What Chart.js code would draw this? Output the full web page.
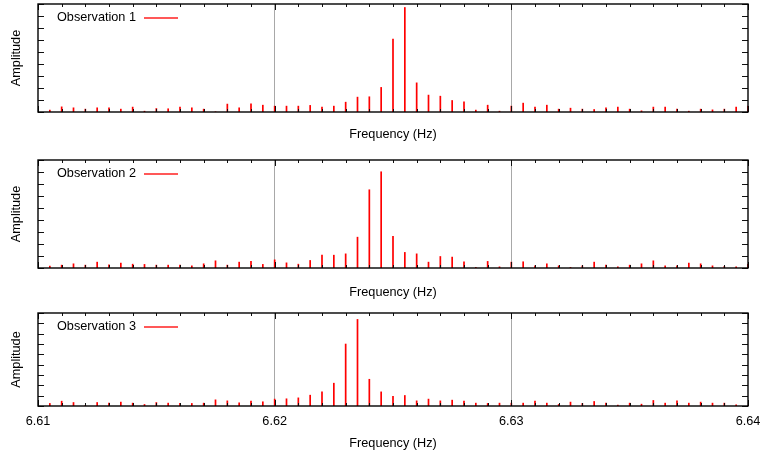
<!DOCTYPE html>
<html>
<head>
<meta charset="utf-8">
<script src="https://cdn.jsdelivr.net/npm/chart.js@4"></script>
<style>
  body { margin: 0; background: #fff; }
  #wrap { position: relative; width: 764px; height: 457px; }
  canvas { position: absolute; left: 0; }
</style>
</head>
<body>
<div id="wrap">
  <canvas id="c1" width="764" height="150" style="top:0px"></canvas>
  <canvas id="c2" width="764" height="150" style="top:150px"></canvas>
  <canvas id="c3" width="764" height="157" style="top:300px"></canvas>
</div>
<script>
// spectral lines, 0.0005 Hz apart
const frequencies = [
  6.6105, 6.611, 6.6115, 6.612, 6.6125, 6.613, 6.6135, 6.614, 6.6145, 6.615,
  6.6155, 6.616, 6.6165, 6.617, 6.6175, 6.618, 6.6185, 6.619, 6.6195, 6.62,
  6.6205, 6.621, 6.6215, 6.622, 6.6225, 6.623, 6.6235, 6.624, 6.6245, 6.625,
  6.6255, 6.626, 6.6265, 6.627, 6.6275, 6.628, 6.6285, 6.629, 6.6295, 6.63,
  6.6305, 6.631, 6.6315, 6.632, 6.6325, 6.633, 6.6335, 6.634, 6.6345, 6.635,
  6.6355, 6.636, 6.6365, 6.637, 6.6375, 6.638, 6.6385, 6.639, 6.6395, 6.64
];

const obs1 = [
  0.17, 0.44, 0.36, 0.25, 0.36, 0.36, 0.25, 0.42, 0.08, 0.3,
  0.28, 0.42, 0.36, 0.25, 0.03, 0.67, 0.36, 0.69, 0.58, 0.5,
  0.5, 0.5, 0.56, 0.42, 0.5, 0.83, 1.25, 1.28, 2.06, 6.08,
  8.72, 2.44, 1.42, 1.33, 0.97, 0.86, 0.17, 0.58, 0.08, 0.5,
  0.75, 0.42, 0.58, 0.25, 0.33, 0.25, 0.22, 0.36, 0.42, 0.25,
  0.11, 0.42, 0.42, 0.25, 0.08, 0.25, 0.19, 0.25, 0.42, 0.5
];

const obs2 = [
  0.17, 0.25, 0.36, 0.25, 0.5, 0.28, 0.42, 0.33, 0.31, 0.25,
  0.25, 0.25, 0.19, 0.36, 0.61, 0.25, 0.5, 0.56, 0.31, 0.69,
  0.44, 0.33, 0.64, 1.08, 1.08, 1.19, 2.58, 6.53, 8.03, 2.64,
  1.31, 1.19, 0.5, 0.97, 0.92, 0.53, 0.06, 0.56, 0.11, 0.5,
  0.53, 0.19, 0.36, 0.19, 0.06, 0.19, 0.5, 0.25, 0.11, 0.25,
  0.36, 0.61, 0.19, 0.19, 0.42, 0.36, 0.19, 0.14, 0.11, 0.31
];

const obs3 = [
  0.26, 0.48, 0.35, 0.05, 0.35, 0.29, 0.39, 0.29, 0.16, 0.35,
  0.29, 0.26, 0.26, 0.29, 0.61, 0.51, 0.32, 0.48, 0.42, 0.68,
  0.71, 0.8, 1.06, 1.38, 2.22, 6.01, 8.39, 2.6, 1.38, 0.96,
  1.03, 0.51, 0.68, 0.51, 0.58, 0.48, 0.29, 0.26, 0.29, 0.29,
  0.29, 0.48, 0.29, 0.16, 0.39, 0.26, 0.45, 0.29, 0.1, 0.29,
  0.19, 0.55, 0.29, 0.51, 0.29, 0.39, 0.29, 0.29, 0.13, 0.05
];

const xTickLabels = ["6.61", "6.62", "6.63", "6.64"];
const xMin = 6.61, xMax = 6.64, xMajor = 0.01, xMinor = 0.001;
const yMax = 9;

Chart.defaults.font.family = "'Liberation Sans', Arial, sans-serif";
Chart.defaults.font.size = 12.7;
Chart.defaults.color = "#000";

// gnuplot-like box with inward ticks on all four sides, plus the key
const gnuplotFrame = {
  id: "gnuplotFrame",
  afterDatasetsDraw(chart) {
    const ctx = chart.ctx;
    const a = chart.chartArea;
    const x = chart.scales.x, y = chart.scales.y;
    ctx.save();
    ctx.strokeStyle = "#111";
    ctx.lineWidth = 1;
    ctx.beginPath();
    const nMinor = Math.round((xMax - xMin) / xMinor);
    for (let i = 0; i <= nMinor; i++) {
      const px = Math.round(x.getPixelForValue(xMin + i * xMinor)) + 0.5;
      const len = i % 10 === 0 ? 6 : 3;
      ctx.moveTo(px, a.top); ctx.lineTo(px, a.top + len);
      ctx.moveTo(px, a.bottom); ctx.lineTo(px, a.bottom - len);
    }
    for (let v = 0; v <= yMax; v++) {
      const py = Math.round(y.getPixelForValue(v)) + 0.5;
      ctx.moveTo(a.left, py); ctx.lineTo(a.left + 6, py);
      ctx.moveTo(a.right, py); ctx.lineTo(a.right - 6, py);
    }
    ctx.stroke();
    ctx.lineWidth = 1.4;
    ctx.strokeStyle = "#000";
    ctx.strokeRect(a.left, a.top, a.right - a.left, a.bottom - a.top);
    ctx.restore();
  },
  afterDraw(chart) {
    const ctx = chart.ctx;
    const a = chart.chartArea;
    const ds = chart.data.datasets[0];
    const ly = a.top + 13.5;
    ctx.save();
    ctx.font = "12.7px 'Liberation Sans', Arial, sans-serif";
    ctx.fillStyle = "#000";
    ctx.textBaseline = "middle";
    ctx.fillText(ds.label, 57, ly);
    ctx.strokeStyle = "#ff2020";
    ctx.lineWidth = 1.3;
    ctx.beginPath();
    ctx.moveTo(144, ly + 0.5);
    ctx.lineTo(178, ly + 0.5);
    ctx.stroke();
    ctx.restore();
  }
};

function makeChart(id, label, values, padTop, xHeight, titleGap, showTicks) {
  const ctx = document.getElementById(id).getContext("2d");
  return new Chart(ctx, {
    type: "bar",
    data: {
      datasets: [
        {
          label: label,
          data: frequencies.map((f, i) => ({ x: f, y: values[i] })),
          backgroundColor: "#ff0000",
          borderWidth: 0,
          barThickness: 1.3,
          inflateAmount: 0.2,
        },
      ],
    },
    options: {
      responsive: false,
      animation: false,
      devicePixelRatio: 1,
      layout: { padding: { top: padTop, right: 16, bottom: 0, left: 0 } },
      plugins: { legend: { display: false }, tooltip: { enabled: false } },
      scales: {
        x: {
          type: "linear",
          min: xMin,
          max: xMax,
          offset: false,
          grid: {
            offset: false,
            drawTicks: false,
            lineWidth: 1,
            color: (c) => {
              const v = c.tick ? c.tick.value : 0;
              return (Math.abs(v - 6.62) < 1e-6 || Math.abs(v - 6.63) < 1e-6) ? "#a8a8a8" : "rgba(0,0,0,0)";
            },
          },
          border: { display: false },
          ticks: {
            display: showTicks,
            stepSize: xMajor,
            padding: 8,
            maxRotation: 0,
            autoSkip: false,
            callback: (v, i) => xTickLabels[i],
          },
          title: {
            display: true,
            text: "Frequency (Hz)",
            padding: { top: 0, bottom: titleGap },
          },
          afterFit: (s) => {
            s.height = xHeight;
            s.paddingLeft = 0;
            s.paddingRight = 0;
          },
        },
        y: {
          min: 0,
          max: yMax,
          grid: { display: false },
          border: { display: false },
          ticks: { display: false, stepSize: 1 },
          title: {
            display: true,
            text: "Amplitude",
            padding: { top: 9, bottom: 0 },
          },
          afterFit: (s) => { s.width = 38; },
        },
      },
    },
    plugins: [gnuplotFrame],
  });
}

makeChart("c1", "Observation 1", obs1, 4, 38, 7.4, false);
makeChart("c2", "Observation 2", obs2, 10, 32, 0, false);
makeChart("c3", "Observation 3", obs3, 13, 51, 6, true);
</script>
</body>
</html>
